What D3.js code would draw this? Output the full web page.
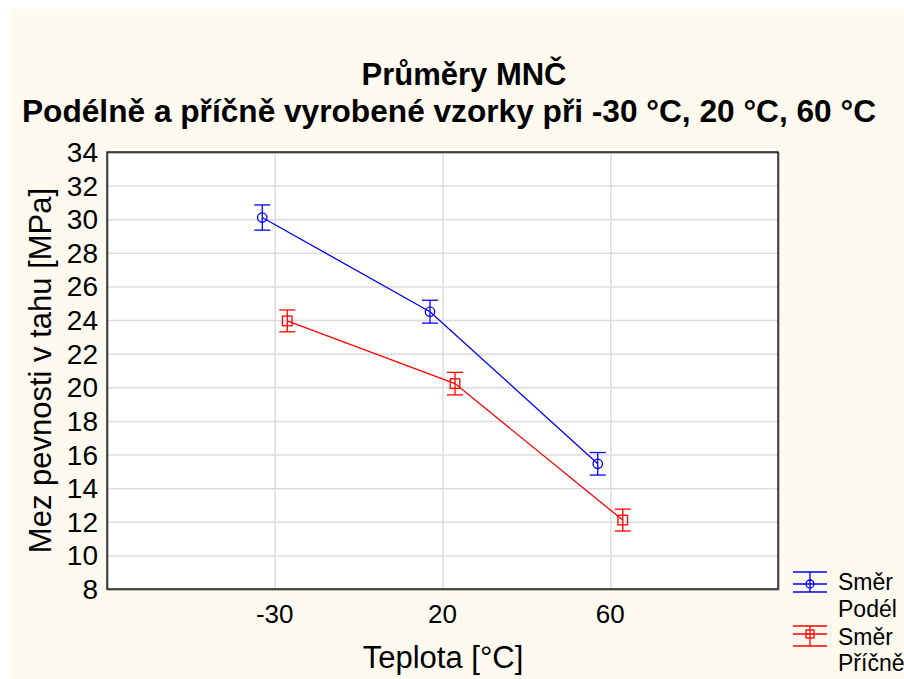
<!DOCTYPE html>
<html><head><meta charset="utf-8">
<script src="https://cdn.jsdelivr.net/npm/d3@7"></script>
<style>body{margin:0;background:#fff}svg{display:block}text{font-family:"Liberation Sans",Arial,sans-serif}</style>
</head><body><svg id="c" width="904" height="679"></svg>
<script>
const categories = ["-30", "20", "60"];
const seriesNames = ["Směr Podél", "Směr Příčně"];
const podelMean = [30.1, 24.5, 15.45];
const podelErr = [0.75, 0.68, 0.67];
const pricneMean = [23.95, 20.22, 12.1];
const pricneErr = [0.65, 0.67, 0.65];
const yTicks = [8,10,12,14,16,18,20,22,24,26,28,30,32,34];

const svg = d3.select("#c");
svg.append("rect").attr("x",9).attr("y",9).attr("width",895).attr("height",670).attr("fill","#fefaf0");

const L=107, R=778, T=152, B=589;
const x = d3.scaleLinear().domain([0,4]).range([L,R]);
const y = d3.scaleLinear().domain([8,34]).range([B,T]);

svg.append("rect").attr("x",L).attr("y",T).attr("width",R-L).attr("height",B-T).attr("fill","#fff");

const gy = svg.append("g").attr("transform",`translate(${L},0)`)
  .call(d3.axisLeft(y).tickValues(yTicks).tickSize(-(R-L)).tickFormat(""));
gy.select(".domain").remove();
gy.selectAll("line").attr("stroke","#dcdcdc").attr("stroke-width",1.5);

const gx = svg.append("g").attr("transform",`translate(0,${B})`)
  .call(d3.axisBottom(x).tickValues([1,2,3]).tickSize(-(B-T)).tickFormat(""));
gx.select(".domain").remove();
gx.selectAll("line").attr("stroke","#dcdcdc").attr("stroke-width",1.5);

svg.append("rect").attr("x",L+1).attr("y",T+1).attr("width",R-L).attr("height",B-T).attr("fill","none").attr("stroke","#888").attr("stroke-width",1);
svg.append("rect").attr("x",L).attr("y",T).attr("width",R-L).attr("height",B-T).attr("fill","none").attr("stroke","#000").attr("stroke-width",1.3);

svg.append("g").selectAll("text").data(yTicks).join("text")
  .attr("x",98).attr("y",d=>y(d)+10).attr("text-anchor","end")
  .attr("font-size",28).attr("fill","#000").text(d=>d);
svg.append("g").selectAll("text").data(categories).join("text")
  .attr("x",(d,i)=>x(i+1)).attr("y",623).attr("text-anchor","middle")
  .attr("font-size",26).attr("fill","#000").text(d=>d);

svg.append("text").attr("x",464).attr("y",85).attr("text-anchor","middle").attr("font-weight","bold").attr("font-size",31).text("Průměry MNČ");
svg.append("text").attr("x",449).attr("y",122).attr("text-anchor","middle").attr("font-weight","bold").attr("font-size",31)
  .attr("textLength",854).attr("lengthAdjust","spacingAndGlyphs").text("Podélně a příčně vyrobené vzorky při -30 °C, 20 °C, 60 °C");
svg.append("text").attr("transform",`translate(51,${(T+B)/2}) rotate(-90)`).attr("text-anchor","middle").attr("font-size",31).text("Mez pevnosti v tahu [MPa]");
svg.append("text").attr("x",443).attr("y",668).attr("text-anchor","middle").attr("font-size",31).text("Teplota [°C]");

const series = [
  {mean:podelMean, err:podelErr, color:"#0000ff", off:-12.5, shape:"circle"},
  {mean:pricneMean, err:pricneErr, color:"#ff0000", off:12.5, shape:"square"}
];
const line = d3.line().x(d=>d[0]).y(d=>d[1]);
series.forEach(s=>{
  const pts = s.mean.map((m,i)=>[x(i+1)+s.off, y(m)]);
  const g = svg.append("g");
  g.append("path").attr("d",line(pts)).attr("fill","none").attr("stroke",s.color).attr("stroke-width",1.3);
  s.mean.forEach((m,i)=>{
    const cx = x(i+1)+s.off, e=s.err[i];
    g.append("line").attr("x1",cx).attr("x2",cx).attr("y1",y(m+e)).attr("y2",y(m-e)).attr("stroke",s.color).attr("stroke-width",1.3);
    [m+e,m-e].forEach(v=>g.append("line").attr("x1",cx-8).attr("x2",cx+8).attr("y1",y(v)).attr("y2",y(v)).attr("stroke",s.color).attr("stroke-width",1.3));
    if(s.shape==="circle") g.append("circle").attr("cx",cx).attr("cy",y(m)).attr("r",4.7).attr("fill","none").attr("stroke",s.color).attr("stroke-width",1.3);
    else g.append("rect").attr("x",cx-4.8).attr("y",y(m)-4.8).attr("width",9.6).attr("height",9.6).attr("fill","none").attr("stroke",s.color).attr("stroke-width",1.3);
  });
});

const leg = [
  {color:"#0000ff", shape:"circle", top:572, mid:584, bot:592, b1:590, b2:617},
  {color:"#ff0000", shape:"square", top:626, mid:634, bot:646, b1:645, b2:671}
];
leg.forEach((d,i)=>{
  const g = svg.append("g");
  [d.top,d.mid,d.bot].forEach(yy=>g.append("line").attr("x1",793).attr("x2",827).attr("y1",yy).attr("y2",yy).attr("stroke",d.color).attr("stroke-width",1.3));
  g.append("line").attr("x1",810).attr("x2",810).attr("y1",d.top).attr("y2",d.bot).attr("stroke",d.color).attr("stroke-width",1.3);
  if(d.shape==="circle") g.append("circle").attr("cx",810).attr("cy",d.mid).attr("r",4).attr("fill","none").attr("stroke",d.color).attr("stroke-width",1.3);
  else g.append("rect").attr("x",806).attr("y",d.mid-4).attr("width",8).attr("height",8).attr("fill","none").attr("stroke",d.color).attr("stroke-width",1.3);
  const name = seriesNames[i].split(" ");
  g.append("text").attr("x",838).attr("y",d.b1).attr("font-size",23).text(name[0]);
  g.append("text").attr("x",838).attr("y",d.b2).attr("font-size",23).text(name[1]);
});
</script></body></html>
